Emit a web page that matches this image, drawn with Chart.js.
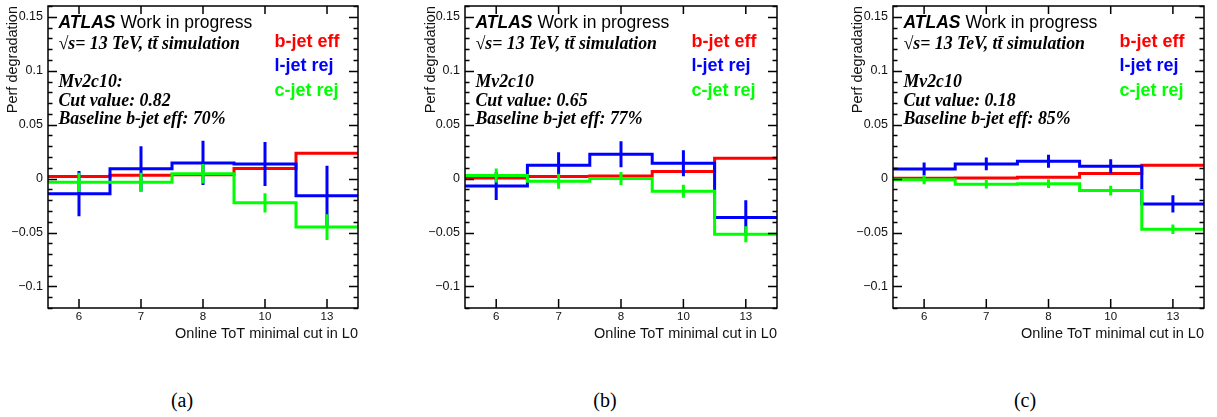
<!DOCTYPE html>
<html>
<head>
<meta charset="utf-8">
<script src="https://cdn.jsdelivr.net/npm/chart.js@4.4.1/dist/chart.umd.min.js"></script>
<style>
  body { margin: 0; background: #fff; width: 1217px; height: 417px; position: relative; overflow: hidden; }
  canvas { position: absolute; top: 0; }
  .cap { position: absolute; top: 389px; font: 20px "Liberation Serif", "Times New Roman", serif; transform: translateX(-50%); }
</style>
</head>
<body>
<canvas id="pa" width="364" height="345" style="left:0px"></canvas>
<canvas id="pb" width="365" height="345" style="left:418px"></canvas>
<canvas id="pc" width="365" height="345" style="left:845px"></canvas>
<div class="cap" style="left:182px">(a)</div>
<div class="cap" style="left:605px">(b)</div>
<div class="cap" style="left:1025px">(c)</div>
<script>
// ToT cut bins (x axis) and y ticks
var totCuts = ['6', '7', '8', '10', '13'];
var yTicks = [-0.1, -0.05, 0, 0.05, 0.1, 0.15];

// panel (a): cut 0.82, 70%
var bEffA = [0.002, 0.003, 0.0035, 0.0093, 0.0235];
var bErrA = [0.0006, 0.0006, 0.0006, 0.0006, 0.0008];
var lRejA = [-0.014, 0.009, 0.0145, 0.0135, -0.016];
var lErrA = [0.021, 0.021, 0.0205, 0.0205, 0.028];
var cRejA = [-0.0035, -0.0035, 0.0045, -0.0225, -0.045];
var cErrA = [0.009, 0.009, 0.009, 0.009, 0.012];

// panel (b): cut 0.65, 77%
var bEffB = [0.0005, 0.002, 0.0025, 0.0065, 0.0188];
var bErrB = [0.0005, 0.0005, 0.0005, 0.0006, 0.0007];
var lRejB = [-0.0068, 0.0123, 0.0225, 0.0142, -0.036];
var lErrB = [0.013, 0.012, 0.012, 0.012, 0.016];
var cRejB = [0.0028, -0.0025, 0.0, -0.0118, -0.0516];
var cErrB = [0.0065, 0.007, 0.006, 0.006, 0.0075];

// panel (c): cut 0.18, 85%
var bEffC = [0.0003, 0.0006, 0.0012, 0.0046, 0.0123];
var bErrC = [0.0004, 0.0004, 0.0004, 0.0005, 0.0005];
var lRejC = [0.0089, 0.0136, 0.016, 0.0114, -0.0235];
var lErrC = [0.006, 0.006, 0.006, 0.0065, 0.008];
var cRejC = [-0.0012, -0.0053, -0.0047, -0.0111, -0.047];
var cErrC = [0.004, 0.004, 0.004, 0.0045, 0.0045];

var taggers = ['Mv2c10:', 'Mv2c10', 'Mv2c10'];
var cutValues = ['0.82', '0.65', '0.18'];
var baseEffs = ['70%', '77%', '85%'];

var SANS = '"Liberation Sans", Arial, sans-serif';
var SERIF = '"Liberation Serif", "Times New Roman", serif';
Chart.defaults.font.family = SANS;
Chart.defaults.color = '#111';

function steps(vals) {
    var pts = [];
    vals.forEach(function (v, i) {
        pts.push({x: i - 0.5, y: v}, {x: i + 0.5, y: v});
    });
    return pts;
}

function errBars(vals, errs) {
    var pts = [];
    vals.forEach(function (v, i) {
        pts.push({x: i, y: v - errs[i]}, {x: i, y: v + errs[i]}, {x: i, y: null});
    });
    return pts;
}

function series(data, color, order) {
    return {
        data: data, borderColor: color, borderWidth: 3, pointRadius: 0,
        fill: false, tension: 0, spanGaps: false, order: order, borderCapStyle: 'butt'
    };
}

// frame + ROOT style inner ticks
var frameTicks = {
    id: 'frameTicks',
    afterDraw: function (chart) {
        var ctx = chart.ctx, a = chart.chartArea, x = chart.scales.x, y = chart.scales.y;
        ctx.save();
        ctx.strokeStyle = '#000';
        ctx.lineWidth = 1.5;
        ctx.strokeRect(a.left, a.top, a.right - a.left, a.bottom - a.top);
        ctx.beginPath();
        for (var k = -12; k <= 16; k++) {
            var py = Math.round(y.getPixelForValue(k / 100)) + 0.5;
            var len = (k % 5 === 0) ? 9 : 4.5;
            ctx.moveTo(a.left, py); ctx.lineTo(a.left + len, py);
            ctx.moveTo(a.right, py); ctx.lineTo(a.right - len, py);
        }
        totCuts.forEach(function (c, i) {
            var px = x.getPixelForValue(i);
            ctx.moveTo(px, a.bottom); ctx.lineTo(px, a.bottom - 9);
            ctx.moveTo(px, a.top); ctx.lineTo(px, a.top + 8);
        });
        ctx.stroke();
        ctx.restore();
    }
};

var atlasText = {
    id: 'atlasText',
    afterDraw: function (chart, args, o) {
        var ctx = chart.ctx, a = chart.chartArea;
        var lx = a.left + 10.5;
        ctx.save();
        ctx.textBaseline = 'alphabetic';
        ctx.textAlign = 'left';
        ctx.fillStyle = '#000';
        ctx.font = 'italic bold 17.5px ' + SANS;
        ctx.fillText('ATLAS', lx, a.top + 22.3);
        var w = ctx.measureText('ATLAS ').width;
        ctx.font = '17.5px ' + SANS;
        ctx.fillText('Work in progress', lx + w, a.top + 22.3);

        ctx.font = 'italic bold 17.8px ' + SERIF;
        ctx.fillText('\u221As= 13 TeV, tt\u0304 simulation', lx, a.top + 43);
        ctx.fillText(o.tagger, lx, a.top + 80.5);
        ctx.fillText('Cut value: ' + o.cut, lx, a.top + 99.5);
        ctx.fillText('Baseline b-jet eff: ' + o.eff, lx, a.top + 118);

        var gx = a.left + 226.5;
        ctx.font = 'bold 18px ' + SANS;
        ctx.fillStyle = '#ff0000';
        ctx.fillText('b-jet eff', gx, a.top + 40.7);
        ctx.fillStyle = '#0000ff';
        ctx.fillText('l-jet rej', gx, a.top + 65.2);
        ctx.fillStyle = '#00ff00';
        ctx.fillText('c-jet rej', gx, a.top + 89.7);
        ctx.restore();
    }
};

function yLabel(v) {
    if (v === 0) return '0';
    return String(v).replace('-', '\u2212');
}

function makePanel(id, yWidth, bEff, bErr, lRej, lErr, cRej, cErr, idx) {
    new Chart(document.getElementById(id).getContext('2d'), {
        type: 'line',
        data: {
            datasets: [
                series(steps(cRej), '#00ff00', 1),
                series(errBars(cRej, cErr), '#00ff00', 1),
                series(steps(lRej), '#0000ff', 2),
                series(errBars(lRej, lErr), '#0000ff', 2),
                series(steps(bEff), '#ff0000', 3),
                series(errBars(bEff, bErr), '#ff0000', 3)
            ]
        },
        options: {
            responsive: false,
            animation: false,
            events: [],
            layout: { padding: { left: 0, right: 6, top: 6, bottom: 2 } },
            plugins: {
                legend: { display: false },
                tooltip: { enabled: false },
                atlasText: { tagger: taggers[idx], cut: cutValues[idx], eff: baseEffs[idx] }
            },
            scales: {
                x: {
                    type: 'linear', min: -0.5, max: 4.5,
                    afterBuildTicks: function (s) {
                        s.ticks = totCuts.map(function (c, i) { return {value: i}; });
                    },
                    ticks: {
                        callback: function (v) { return totCuts[v]; },
                        font: { size: 11.5 }, padding: 2, maxRotation: 0, autoSkip: false
                    },
                    grid: { display: false, drawTicks: false },
                    border: { display: false },
                    title: {
                        display: true, text: 'Online ToT minimal cut in L0', align: 'end',
                        font: { size: 14.5 }, padding: 0
                    },
                    afterFit: function (s) {
                        s.height = 35; s.paddingLeft = 0; s.paddingRight = 0;
                    }
                },
                y: {
                    type: 'linear', min: -0.12, max: 0.16,
                    afterBuildTicks: function (s) {
                        s.ticks = yTicks.map(function (v) { return {value: v}; });
                    },
                    ticks: { callback: yLabel, font: { size: 12.5 }, padding: 5 },
                    grid: { display: false, drawTicks: false },
                    border: { display: false },
                    title: {
                        display: true, text: 'Perf degradation', align: 'end',
                        font: { size: 14.5 }, padding: { top: 4, bottom: 0 }
                    },
                    afterFit: function (s) {
                        s.width = yWidth; s.paddingTop = 0; s.paddingBottom = 0;
                    }
                }
            }
        },
        plugins: [frameTicks, atlasText]
    });
}

makePanel('pa', 48, bEffA, bErrA, lRejA, lErrA, cRejA, cErrA, 0);
makePanel('pb', 47, bEffB, bErrB, lRejB, lErrB, cRejB, cErrB, 1);
makePanel('pc', 48, bEffC, bErrC, lRejC, lErrC, cRejC, cErrC, 2);
</script>
</body>
</html>
